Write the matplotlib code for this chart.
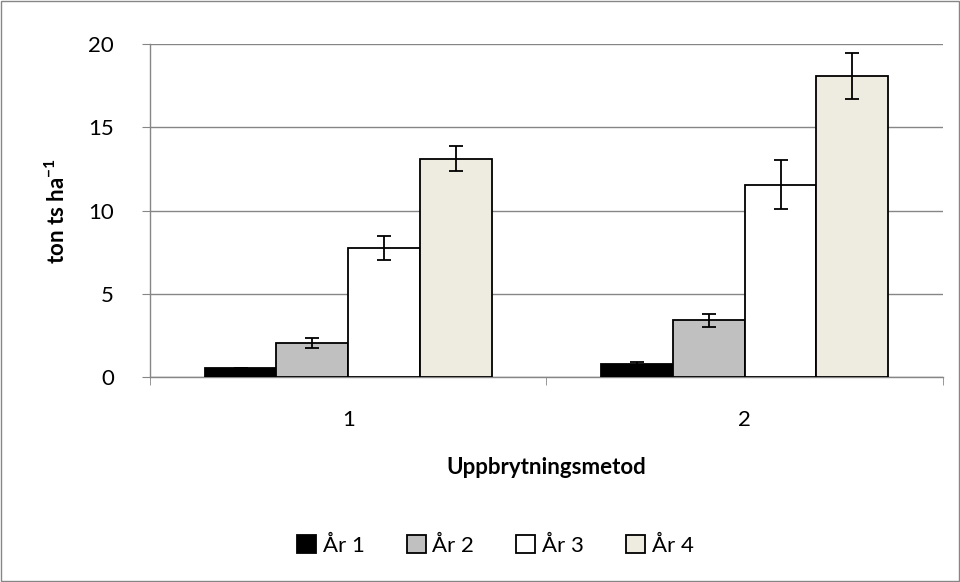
import matplotlib.pyplot as plt
import numpy as np

plt.rcParams['font.family'] = ['Lato', 'DejaVu Sans']
plt.rcParams['mathtext.fontset'] = 'custom'
plt.rcParams['mathtext.bf'] = 'Lato:bold'
plt.rcParams['mathtext.rm'] = 'Lato'

# data
metoder = ['1', '2']
serier = ['År 1', 'År 2', 'År 3', 'År 4']
varden = [
    [0.52, 0.78],    # År 1
    [2.06, 3.42],    # År 2
    [7.73, 11.57],   # År 3
    [13.13, 18.08],  # År 4
]
fel = [
    [0.0, 0.1],
    [0.3, 0.4],
    [0.72, 1.45],
    [0.74, 1.39],
]
farger = ['#000000', '#c0c0c0', '#ffffff', '#eeece1']

fig = plt.figure(figsize=(9.6, 5.82), dpi=100)
ax = fig.add_axes([0.15625, 0.352, 0.826, 0.572])

x = np.arange(1, len(metoder) + 1)
bredd = 0.181
for i, (namn, v, e, f) in enumerate(zip(serier, varden, fel, farger)):
    pos = x + (i - 1.5) * bredd
    ax.bar(pos, v, width=bredd, color=f, edgecolor='black', linewidth=1.3,
           label=namn, zorder=3)
    ax.errorbar(pos, v, yerr=e, fmt='none', ecolor='black', elinewidth=1.3,
                capsize=5, capthick=1.3, zorder=4)

ax.set_xlim(0.5, 2.5)
ax.set_ylim(0, 20)
ax.set_yticks([0, 5, 10, 15, 20])
ax.set_xticks(x)
ax.set_xticklabels(metoder)
ax.set_xticks([0.5, 1.5, 2.5], minor=True)
ax.tick_params(axis='x', which='major', length=0, pad=24, labelsize=16)
ax.tick_params(axis='x', which='minor', length=6, color='#868686', direction='out')
ax.tick_params(axis='y', length=6, color='#868686', labelsize=16, pad=20)
ax.grid(axis='y', color='#868686', linewidth=1.0, zorder=0)
for s in ['top', 'right']:
    ax.spines[s].set_visible(False)
for s in ['left', 'bottom']:
    ax.spines[s].set_color('#868686')
    ax.spines[s].set_linewidth(1.0)

ax.set_xlabel('Uppbrytningsmetod', fontsize=16, fontweight='bold', labelpad=19)
ax.set_ylabel('ton ts ha$^{\\mathbf{-1}}$', fontsize=16, fontweight='bold', labelpad=14)

fig.legend(loc='center', bbox_to_anchor=(0.516, 0.063), ncol=4, frameon=False,
           fontsize=16, handlelength=0.85, handleheight=0.85, handletextpad=0.3,
           columnspacing=1.9)

# figure frame
fig.patches.append(plt.Rectangle((0.001, 0.001), 0.998, 0.998, transform=fig.transFigure,
                                 fill=False, edgecolor='#868686', linewidth=1.0))

fig.savefig('out.png', dpi=100)
